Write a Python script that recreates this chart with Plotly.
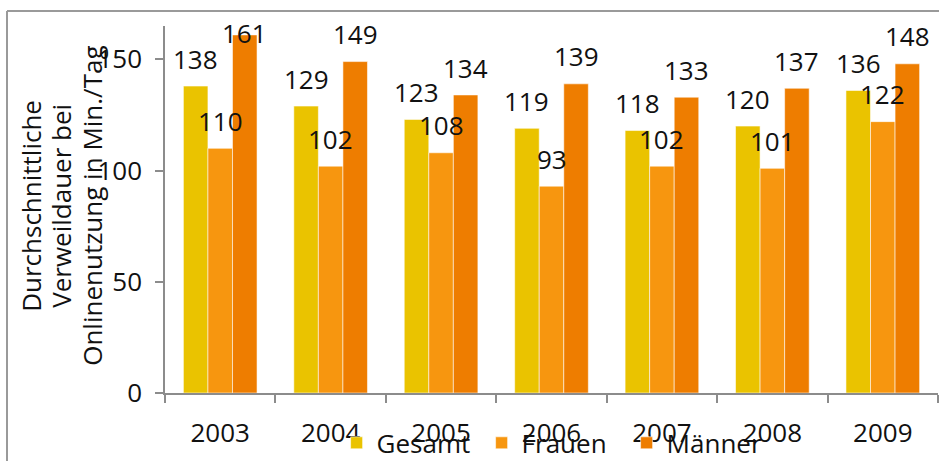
import plotly.graph_objects as go

years = ["2003", "2004", "2005", "2006", "2007", "2008", "2009"]
gesamt = [138, 129, 123, 119, 118, 120, 136]
frauen = [110, 102, 108, 93, 102, 101, 122]
maenner = [161, 149, 134, 139, 133, 137, 148]

series = [
    ("Gesamt", gesamt, "#EAC300"),
    ("Frauen", frauen, "#F7960F"),
    ("Männer", maenner, "#EE7D00"),
]
y_title_lines = ["Durchschnittliche", "Verweildauer bei", "Onlinenutzung in Min./Tag"]

FONT = "Open Sans"
FS = 26
Y_MAX = 165
BARGAP = 0.333
PLOT_LEFT, PLOT_W = 165, 773

fig = go.Figure()
for name, vals, color in series:
    fig.add_trace(go.Bar(
        x=years, y=vals, name=name,
        marker=dict(color=color, line=dict(color="rgba(255,255,255,0.55)", width=1)),
    ))

# value labels float above each bar, kept inside the frame at the top
bar_w = (1 - BARGAP) / len(series)
annotations = []
for s_idx, (name, vals, color) in enumerate(series):
    offset = (s_idx - (len(series) - 1) / 2) * bar_w
    for i, v in enumerate(vals):
        annotations.append(dict(
            x=i + offset, y=min(v + 12.3, 162), xref="x", yref="y",
            text=str(v), showarrow=False,
            font=dict(family=FONT, size=FS, color="#111111"),
            xanchor="center", yanchor="middle",
        ))

# three-line rotated axis title, set line by line for tight leading
for line_text, px in zip(y_title_lines, [31, 61, 92]):
    annotations.append(dict(
        x=(px - PLOT_LEFT) / PLOT_W, y=0.51, xref="paper", yref="paper",
        text=line_text, textangle=-90, showarrow=False,
        font=dict(family=FONT, size=FS, color="#111111"),
        xanchor="center", yanchor="middle",
    ))

frame_x = (7 - PLOT_LEFT) / PLOT_W
frame_y = (393 - 11) / 367
fig.update_layout(
    width=939, height=461,
    margin=dict(l=PLOT_LEFT, r=1, t=26, b=68, autoexpand=False),
    paper_bgcolor="white", plot_bgcolor="white",
    barmode="group", bargap=BARGAP, bargroupgap=0,
    font=dict(family=FONT, size=FS, color="#111111"),
    annotations=annotations,
    showlegend=True,
    legend=dict(
        orientation="h", x=0.222, y=-0.072, xref="paper", yref="paper",
        xanchor="left", yanchor="top",
        font=dict(family=FONT, size=FS, color="#111111"),
        bgcolor="rgba(0,0,0,0)", entrywidth=100, traceorder="normal",
    ),
    shapes=[
        dict(type="line", xref="paper", yref="paper",
             x0=frame_x, x1=1.2, y0=frame_y, y1=frame_y,
             line=dict(color="#9A9A9A", width=2)),
        dict(type="line", xref="paper", yref="paper",
             x0=frame_x, x1=frame_x, y0=frame_y, y1=-0.3,
             line=dict(color="#9A9A9A", width=2)),
    ],
)

fig.update_xaxes(
    type="category", showline=True, linecolor="#8C8C8C", linewidth=1.5,
    ticks="outside", tickson="boundaries", ticklen=8, tickcolor="#8C8C8C",
    tickwidth=1.5, showgrid=False, ticklabelstandoff=16, automargin=False,
    tickfont=dict(family=FONT, size=FS, color="#111111"),
)
fig.update_yaxes(
    range=[0, Y_MAX], tickvals=[0, 50, 100, 150], showline=True,
    linecolor="#8C8C8C", linewidth=1.5, ticks="outside", ticklen=8,
    tickcolor="#8C8C8C", tickwidth=1.5, showgrid=False, zeroline=False,
    ticklabelstandoff=8, automargin=False,
    tickfont=dict(family=FONT, size=FS, color="#111111"),
)

fig.write_html("out.html")
